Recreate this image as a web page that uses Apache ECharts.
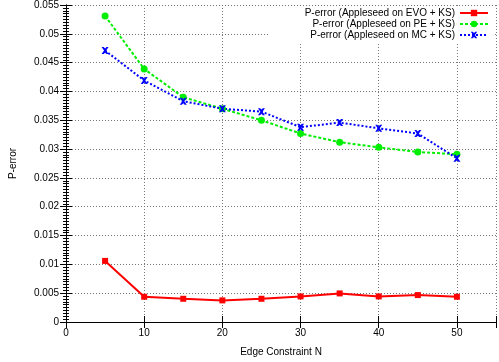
<!DOCTYPE html>
<html>
<head>
<meta charset="utf-8">
<script src="https://cdn.jsdelivr.net/npm/echarts@6/dist/echarts.min.js"></script>
<style>
  html, body { margin: 0; padding: 0; background: #fff; }
  #chart { width: 499px; height: 362px; }
</style>
</head>
<body>
<div id="chart"></div>
<script>
var edgeN = [5, 10, 15, 20, 25, 30, 35, 40, 45, 50];
var evoKs = [0.0106, 0.00438, 0.00403, 0.00375, 0.00403, 0.00444, 0.00496, 0.00444, 0.00467, 0.00438];
var peKs = [0.0531, 0.0439, 0.0390, 0.0370, 0.0350, 0.0327, 0.0312, 0.0303, 0.0295, 0.0291];
var mcKs = [0.0471, 0.0419, 0.0383, 0.0370, 0.0365, 0.0338, 0.0346, 0.0336, 0.0327, 0.0284];
var seriesNames = [
	'P-error (Appleseed on EVO + KS)',
	'P-error (Appleseed on PE + KS)',
	'P-error (Appleseed on MC + KS)'
];

var myChart = echarts.init(document.getElementById('chart'));

var font = 'Liberation Sans, Arial, sans-serif';
var gridLine = { show: true, lineStyle: { color: '#777', type: [1, 2], width: 1 } };
var crossPath = 'path://M0,0 L3,0 L5,2 L7,0 L10,0 L6.5,5 L10,10 L7,10 L5,8 L3,10 L0,10 L3.5,5 Z';

var pairs = (ys) => edgeN.map((x, i) => [x, ys[i]]);

var option = {
	animation: false,
	grid: { left: 64, right: 1, top: 5, bottom: 39, containLabel: false },
	legend: {
		orient: 'vertical',
		right: 6,
		top: 6,
		align: 'right',
		itemWidth: 28,
		itemHeight: 8,
		itemGap: 1,
		padding: [2, 4, 2, 36],
		backgroundColor: '#fff',
		textStyle: { fontFamily: font, fontSize: 10, color: '#000' },
		data: seriesNames
	},
	xAxis: [{
		type: 'value',
		min: 0,
		max: 55,
		interval: 10,
		name: 'Edge Constraint N',
		nameLocation: 'middle',
		nameGap: 25,
		nameTextStyle: { fontFamily: font, fontSize: 10, color: '#000' },
		axisLine: { lineStyle: { color: '#000', width: 1 } },
		axisTick: { inside: true, length: 6, lineStyle: { color: '#000' } },
		axisLabel: { fontFamily: font, fontSize: 10, color: '#000', margin: 6,
			formatter: (v) => (v % 10 === 0 ? String(v) : '') },
		splitLine: gridLine
	}, {
		type: 'value',
		position: 'top',
		min: 0,
		max: 55,
		interval: 10,
		axisLine: { show: true, lineStyle: { color: '#000', width: 1 } },
		axisTick: { show: true, inside: true, length: 6, lineStyle: { color: '#000' } },
		axisLabel: { show: false },
		splitLine: { show: false }
	}],
	yAxis: [{
		type: 'value',
		min: 0,
		max: 0.055,
		interval: 0.005,
		name: 'P-error',
		nameLocation: 'middle',
		nameGap: 48,
		nameTextStyle: { fontFamily: font, fontSize: 10, color: '#000' },
		axisLine: { show: true, lineStyle: { color: '#000', width: 1 } },
		axisTick: { inside: true, length: 6, lineStyle: { color: '#000' } },
		minorTick: { show: true, splitNumber: 10, length: 3, lineStyle: { color: '#000' } },
		axisLabel: { fontFamily: font, fontSize: 10, color: '#000', margin: 7,
			formatter: (v) => String(parseFloat(v.toFixed(3))) },
		splitLine: gridLine
	}, {
		type: 'value',
		position: 'right',
		min: 0,
		max: 0.055,
		interval: 0.005,
		axisLine: { show: true, lineStyle: { color: '#000', width: 1 } },
		axisTick: { show: true, inside: true, length: 6, lineStyle: { color: '#000' } },
		minorTick: { show: true, splitNumber: 10, length: 3, lineStyle: { color: '#000' } },
		axisLabel: { show: false },
		splitLine: { show: false }
	}],
	series: [{
		name: seriesNames[0],
		type: 'line',
		data: pairs(evoKs),
		symbol: 'rect',
		symbolSize: 6,
		color: '#ff0000',
		lineStyle: { width: 2, color: '#ff0000' },
		itemStyle: { color: '#ff0000' }
	}, {
		name: seriesNames[1],
		type: 'line',
		data: pairs(peKs),
		symbol: 'circle',
		symbolSize: 7,
		color: '#00ee00',
		lineStyle: { width: 2, color: '#00ee00', type: [3, 2] },
		itemStyle: { color: '#00ee00' }
	}, {
		name: seriesNames[2],
		type: 'line',
		data: pairs(mcKs),
		symbol: crossPath,
		symbolSize: 7,
		color: '#0000ff',
		lineStyle: { width: 2, color: '#0000ff', type: [2, 2] },
		itemStyle: { color: '#0000ff' }
	}]
};

option && myChart.setOption(option, true);
</script>
</body>
</html>
